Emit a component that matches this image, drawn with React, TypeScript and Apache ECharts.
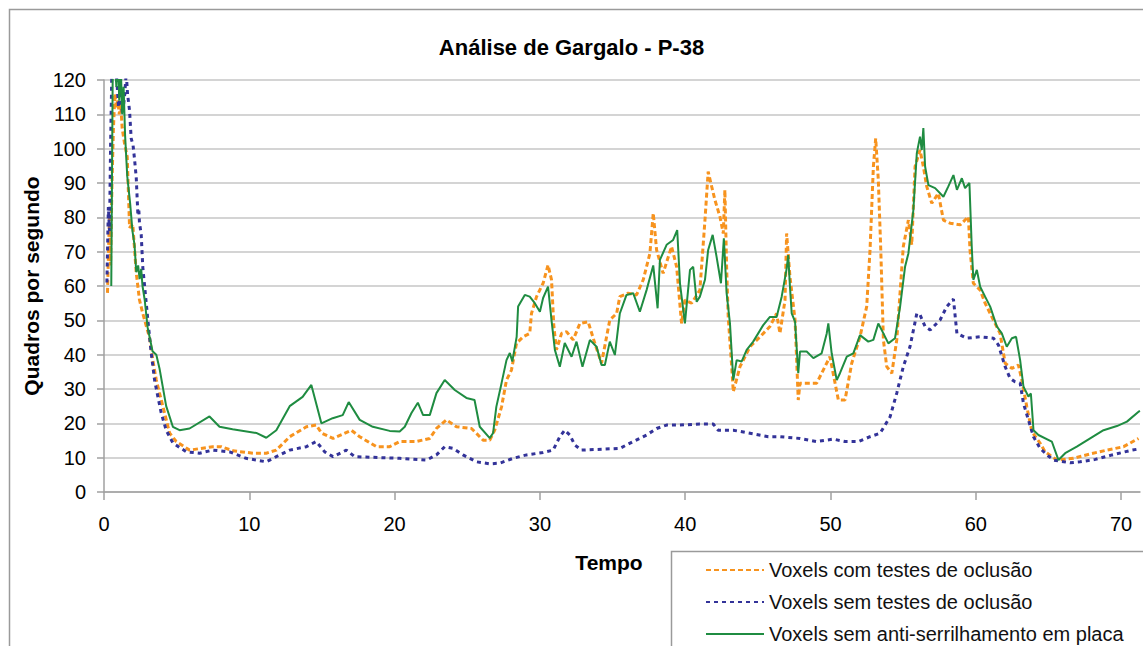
import React, { useEffect, useRef } from "react";
import * as echarts from "echarts";

const xTicks = [0, 10, 20, 30, 40, 50, 60, 70];

const orangeT = [0.24, 0.32, 0.38, 0.45, 0.55, 0.65, 0.75, 0.85, 0.95, 1.05, 1.15, 1.25, 1.41, 1.6, 1.76, 1.98, 2.22, 2.44, 2.67, 3.13, 3.36, 3.6, 3.82, 4.17, 4.51, 4.97, 5.89, 7.49, 8.07, 8.87, 10.25, 11.17, 11.86, 12.78, 13.93, 14.61, 14.96, 15.76, 17.02, 17.6, 18.75, 19.66, 20.35, 21.5, 22.42, 22.88, 23.57, 24.26, 25.29, 25.63, 26.09, 26.55, 26.89, 27.36, 27.7, 28.04, 28.39, 28.84, 29.3, 29.42, 29.77, 30.22, 30.56, 30.8, 30.96, 31.14, 31.49, 31.83, 32.29, 32.75, 33.32, 33.78, 34.24, 34.81, 35.28, 35.5, 36.07, 36.65, 37.11, 37.57, 37.8, 38.03, 38.48, 39.06, 39.41, 39.75, 39.98, 40.44, 41.01, 41.36, 41.58, 41.82, 42.05, 42.39, 42.62, 42.73, 42.85, 42.96, 43.2, 43.31, 43.77, 44.46, 45.15, 45.83, 46.29, 46.52, 46.87, 46.98, 47.21, 47.56, 47.78, 47.9, 49.05, 49.96, 50.54, 51.0, 51.46, 52.03, 52.49, 52.72, 52.95, 53.11, 53.29, 53.46, 53.64, 53.87, 54.22, 54.56, 55.01, 55.36, 55.59, 55.82, 56.16, 56.39, 56.62, 56.97, 57.42, 57.77, 58.23, 58.92, 59.49, 59.6, 59.83, 60.3, 60.64, 61.21, 61.67, 62.02, 62.48, 62.93, 63.17, 63.51, 63.86, 64.43, 64.77, 65.58, 66.72, 67.87, 69.02, 70.17, 71.2];
const orangeV = [58, 72, 80, 66, 90, 106, 116, 112, 114, 110, 113, 106, 101.6, 97.6, 77, 78, 63.8, 56, 52, 45, 38.4, 32.6, 28.8, 23, 17.2, 14.7, 12.2, 13.2, 13.2, 12, 11.3, 11.3, 12.2, 16.1, 19, 19.5, 17.2, 15.6, 18, 16.1, 13.2, 13.2, 14.7, 14.7, 15.6, 18.5, 21, 19, 18.5, 17.1, 15.1, 15.1, 18, 24.8, 32.6, 35.5, 43.3, 45.2, 46.2, 52, 56.9, 60.8, 66.1, 61.8, 48.2, 41.4, 46.2, 46.7, 44.3, 49.1, 49.6, 43.3, 37.5, 50.1, 52, 56.9, 57.9, 57.4, 61.8, 69.5, 81.2, 70.5, 63.7, 71.5, 65.6, 49.1, 55.9, 55, 58.8, 79.2, 93.3, 89, 85, 80.2, 75.3, 88, 65.6, 51, 36.5, 29.2, 36.5, 42.3, 45.2, 48.2, 52, 46.2, 55.9, 75.3, 62.7, 50.1, 26.8, 31.7, 31.7, 39.4, 26.8, 26.8, 37.5, 45.2, 54, 70.5, 94.8, 103, 90.9, 70.5, 44.3, 36.5, 34.6, 44.3, 71.5, 79.2, 72, 94.8, 99.6, 94.8, 89, 84.1, 87, 79.2, 78.3, 77.8, 80.2, 70.5, 60.8, 58.8, 55, 50.1, 46.2, 37.5, 36, 37, 32.6, 24.8, 17.6, 14.2, 11.7, 9.3, 9.8, 11.1, 12.2, 13.2, 15.6];

const blueT = [0.2, 0.3, 0.38, 0.45, 0.55, 0.7, 0.85, 1.0, 1.14, 1.27, 1.41, 1.53, 1.62, 1.76, 1.87, 2.0, 2.1, 2.22, 2.33, 2.4, 2.44, 2.56, 2.67, 3.02, 3.25, 3.48, 3.71, 3.94, 4.28, 4.74, 5.66, 6.58, 7.49, 8.64, 9.79, 11.17, 11.86, 12.78, 13.93, 14.61, 15.19, 15.76, 16.68, 17.25, 20.35, 22.19, 22.88, 23.45, 24.02, 24.71, 25.63, 26.55, 27.24, 28.15, 29.08, 30.22, 30.91, 31.37, 31.71, 32.06, 32.4, 32.86, 33.9, 35.5, 36.42, 37.34, 38.03, 38.72, 39.64, 41.01, 41.93, 42.27, 43.31, 44.46, 45.72, 46.52, 47.9, 49.05, 50.19, 51.0, 51.91, 52.72, 53.41, 54.1, 54.56, 55.01, 55.47, 55.94, 56.16, 56.51, 56.86, 57.54, 58.0, 58.46, 58.7, 59.38, 60.3, 61.21, 61.56, 62.02, 62.36, 62.7, 63.05, 63.28, 63.62, 63.97, 64.43, 64.9, 65.35, 66.49, 67.18, 68.23, 69.38, 70.76, 71.3];
const blueV = [61, 83, 76, 100, 125, 128, 122, 112, 118, 110, 115, 122, 116, 111, 103, 101, 97, 91.5, 81, 82, 78.5, 75, 65.5, 50, 40.5, 32.6, 27.7, 23, 18, 14.3, 11.7, 11.3, 12.2, 11.7, 9.8, 8.8, 10.3, 12.2, 13.2, 14.7, 11.7, 10.3, 12.2, 10.3, 9.8, 9.3, 10.8, 13.2, 12.7, 10.8, 8.8, 8.2, 8.4, 9.8, 10.8, 11.5, 12.2, 16.1, 18, 16.6, 13.7, 12.2, 12.4, 12.7, 14.7, 16.6, 18.5, 19.5, 19.5, 19.8, 19.8, 18, 18, 17.1, 16.1, 16.1, 15.6, 14.7, 15.4, 14.7, 14.7, 16.1, 17.1, 21.9, 28.8, 36.5, 42.3, 52, 51.6, 48.2, 47.2, 50.1, 54, 56.2, 46.2, 44.8, 45.2, 44.8, 42.8, 36.5, 33.1, 32.1, 31.7, 25.8, 21, 16.1, 12.7, 10.8, 9.3, 8.5, 8.8, 9.5, 10.8, 12.2, 12.6];

const greenT = [0.5, 0.6, 0.7, 0.85, 0.95, 1.05, 1.15, 1.25, 1.35, 1.45, 1.6, 1.8, 1.96, 2.1, 2.22, 2.35, 2.45, 2.56, 2.65, 2.8, 3.0, 3.34, 3.6, 3.82, 4.28, 4.74, 5.2, 5.89, 7.26, 7.95, 8.85, 10.48, 11.17, 11.86, 12.78, 13.67, 14.27, 14.96, 15.74, 16.43, 16.84, 17.6, 18.5, 19.66, 20.35, 20.7, 21.16, 21.6, 21.96, 22.42, 22.88, 23.45, 24.14, 24.94, 25.5, 25.86, 26.55, 26.78, 27.0, 27.36, 27.7, 27.93, 28.1, 28.4, 28.5, 28.96, 29.3, 29.65, 30.0, 30.22, 30.56, 30.8, 31.03, 31.37, 31.71, 32.18, 32.52, 32.93, 33.44, 33.9, 34.24, 34.47, 34.81, 35.16, 35.5, 35.96, 36.42, 36.88, 37.34, 37.8, 38.1, 38.26, 38.72, 39.17, 39.45, 39.64, 39.98, 40.33, 40.55, 40.79, 41.01, 41.36, 41.58, 41.89, 42.16, 42.46, 42.66, 42.85, 43.08, 43.31, 43.54, 43.88, 44.23, 44.68, 45.37, 45.83, 46.29, 46.64, 46.98, 47.09, 47.21, 47.33, 47.56, 47.78, 47.9, 48.36, 48.82, 49.39, 49.74, 49.85, 50.08, 50.43, 50.65, 51.12, 51.57, 52.03, 52.6, 52.95, 53.29, 53.64, 53.98, 54.44, 54.79, 55.13, 55.36, 55.7, 55.94, 56.16, 56.28, 56.39, 56.51, 56.74, 57.2, 57.77, 58.11, 58.46, 58.7, 59.04, 59.26, 59.56, 59.72, 59.83, 60.07, 60.3, 60.64, 60.99, 61.45, 61.79, 62.13, 62.48, 62.77, 63.05, 63.28, 63.62, 63.79, 63.97, 64.31, 65.23, 65.69, 66.15, 66.95, 67.87, 68.79, 69.71, 70.4, 71.2, 71.3];
const greenV = [60, 122, 130, 118, 128, 114, 125, 110, 118, 104, 92, 84, 76, 72, 64, 66, 62, 65, 60, 56, 48, 41, 40, 36, 25, 19, 18, 18.5, 22, 19, 18.3, 17.2, 15.8, 18, 25, 27.7, 31.2, 20, 21.5, 22.4, 26.2, 21, 19, 17.8, 17.6, 19, 23, 26, 22.4, 22.4, 28.8, 32.6, 29.7, 27.4, 26.8, 19, 15.7, 17.2, 24.8, 31.7, 38.4, 40.5, 38, 45.2, 54, 57.4, 56.9, 55, 52.5, 56.5, 59.8, 50, 41.4, 36.5, 43.4, 39.4, 43.8, 36.5, 44.3, 42.3, 37, 37, 43.8, 39.9, 52, 57.4, 57.9, 52.5, 58.8, 66, 53.5, 67.6, 72, 73.4, 76.3, 60.8, 49.1, 64.7, 65.6, 55.4, 56.9, 61.8, 70.5, 74.9, 68.5, 60.8, 73.9, 57.9, 49.1, 32.6, 38.4, 38, 41.4, 43.8, 48.6, 51, 51, 56.9, 65, 69, 59.8, 52, 49.6, 34.6, 40.9, 40.9, 39, 40.4, 46.2, 49.1, 40.4, 32.6, 34.6, 39.4, 40.4, 45.7, 43.8, 44.3, 49.1, 46.2, 43.3, 44.8, 54, 65.6, 69.5, 82, 98.7, 103.5, 99.6, 106, 94.8, 89.4, 88.5, 86, 89, 92.3, 88, 91.4, 88.5, 90, 71.5, 61.8, 64.7, 59.8, 56.9, 54, 48.2, 46.2, 42.3, 44.8, 45.2, 38.4, 30.7, 27.8, 28.7, 18, 16.6, 14.7, 9.3, 11.3, 13.2, 15.6, 18, 19.2, 20.5, 23.4, 23.6];

const seriesNames = [
  "Voxels com testes de oclusão",
  "Voxels sem testes de oclusão",
  "Voxels sem anti-serrilhamento em placa",
];

const pairs = (t: number[], v: number[]) => t.map((x, i) => [x, v[i]]);

export default function App() {
  const ref = useRef<HTMLDivElement>(null);
  useEffect(() => {
    if (!ref.current) return;
    const chart = echarts.init(ref.current, undefined, { renderer: "svg" });
    const font = "'Liberation Sans', Arial, sans-serif";
    chart.setOption({
      animation: false,
      backgroundColor: "#ffffff",
      textStyle: { fontFamily: font },
      title: {
        text: "Análise de Gargalo - P-38",
        left: "center",
        top: 31,
        textStyle: { fontFamily: font, fontSize: 22, fontWeight: "bold", color: "#000" },
      },
      graphic: [
        {
          type: "rect",
          shape: { x: 9.5, y: 9.5, width: 1300, height: 800 },
          style: { fill: "none", stroke: "#9a9a9a", lineWidth: 1.5 },
          silent: true,
        },
        {
          type: "rect",
          shape: { x: 671.5, y: 551.5, width: 600, height: 200 },
          style: { fill: "none", stroke: "#9a9a9a", lineWidth: 1.5 },
          silent: true,
        },
      ],
      legend: {
        orient: "vertical",
        left: 705,
        top: 560,
        itemWidth: 58,
        itemHeight: 20,
        itemGap: 12,
        padding: 0,
        itemStyle: { opacity: 0, borderWidth: 0 },
        textStyle: { fontFamily: font, fontSize: 20, color: "#111", lineHeight: 20 },
        data: seriesNames,
      },
      grid: { left: 104, right: 3, top: 80, bottom: 154, containLabel: false },
      xAxis: {
        type: "value",
        min: 0,
        max: 71.3,
        interval: 10,
        name: "Tempo",
        nameLocation: "middle",
        nameGap: 60,
        nameTextStyle: { fontFamily: font, fontSize: 21, fontWeight: "bold", color: "#000", padding: [0, 26, 0, 0] },
        axisLine: { show: true, lineStyle: { color: "#a0a0a0", width: 1.5 } },
        axisTick: { show: true, inside: false, length: 8, lineStyle: { color: "#a0a0a0", width: 1.5 }, customValues: xTicks },
        axisLabel: { fontFamily: font, fontSize: 20, color: "#000", margin: 22, customValues: xTicks },
        splitLine: { show: false },
      },
      yAxis: {
        type: "value",
        min: 0,
        max: 120,
        interval: 10,
        name: "Quadros por segundo",
        nameLocation: "middle",
        nameGap: 62,
        nameTextStyle: { fontFamily: font, fontSize: 21, fontWeight: "bold", color: "#000" },
        axisLine: { show: true, lineStyle: { color: "#a0a0a0", width: 1.5 } },
        axisTick: { show: true, inside: false, length: 7, lineStyle: { color: "#a0a0a0", width: 1.5 } },
        axisLabel: { fontFamily: font, fontSize: 20, color: "#000", margin: 18 },
        splitLine: { show: true, lineStyle: { color: "#c6c6c6", width: 1.5 } },
      },
      series: [
        {
          name: seriesNames[0],
          type: "line",
          symbol: "none",
          clip: true,
          data: pairs(orangeT, orangeV),
          lineStyle: { color: "#F7931E", width: 3, type: [5, 3] },
          itemStyle: { color: "#F7931E" },
        },
        {
          name: seriesNames[1],
          type: "line",
          symbol: "none",
          clip: true,
          data: pairs(blueT, blueV),
          lineStyle: { color: "#333399", width: 3, type: [4, 4] },
          itemStyle: { color: "#333399" },
        },
        {
          name: seriesNames[2],
          type: "line",
          symbol: "none",
          clip: true,
          data: pairs(greenT, greenV),
          lineStyle: { color: "#1F8C41", width: 2 },
          itemStyle: { color: "#1F8C41" },
        },
      ],
    });
    return () => chart.dispose();
  }, []);
  return (
    <div
      ref={ref}
      style={{ position: "fixed", left: 0, top: 0, width: 1143, height: 646 }}
    />
  );
}
